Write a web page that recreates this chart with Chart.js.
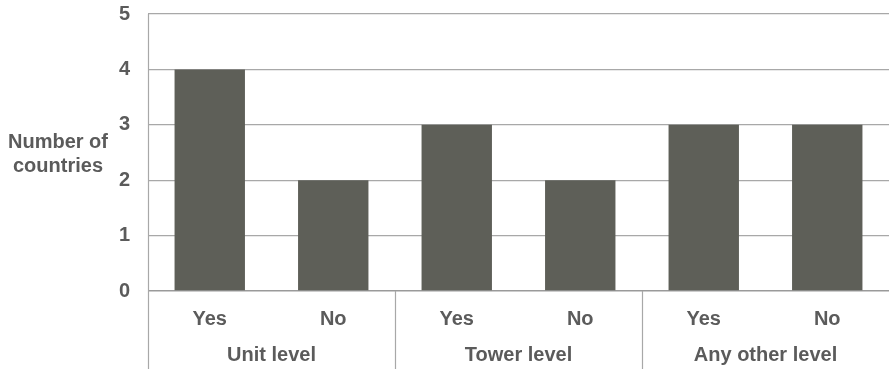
<!DOCTYPE html>
<html>
<head>
<meta charset="utf-8">
<script src="https://cdn.jsdelivr.net/npm/chart.js@4/dist/chart.umd.min.js"></script>
<style>
  html, body { margin: 0; padding: 0; background: #ffffff; }
  #wrap { width: 889px; height: 369px; }
</style>
</head>
<body>
<div id="wrap"><canvas id="chart" width="889" height="369"></canvas></div>
<script>
// Answer per bar, grouped in pairs by level
const answers = ['Yes', 'No', 'Yes', 'No', 'Yes', 'No'];
const levels = ['Unit level', 'Tower level', 'Any other level'];
const countries = [4, 2, 3, 2, 3, 3];
const axisTitle = ['Number of', 'countries'];

const TEXT = '#5b5b5b';
const LINE = '#a8a8a8';
const FONT_FAMILY = "'Liberation Sans', Arial, Helvetica, sans-serif";
const FONT_SIZE = 20;

// Group separators, level labels and the horizontal y-axis title
const levelAxis = {
  id: 'levelAxis',
  afterDraw(chart) {
    const { ctx, chartArea, scales } = chart;
    const x = scales.x;
    const bottom = chart.height;
    ctx.save();
    ctx.strokeStyle = LINE;
    ctx.lineWidth = 1.2;
    ctx.beginPath();
    ctx.moveTo(Math.round(chartArea.left) + 0.5, chartArea.top);
    ctx.lineTo(Math.round(chartArea.left) + 0.5, bottom);
    for (let g = 1; g < levels.length; g++) {
      const bx = (x.getPixelForValue(2 * g - 1) + x.getPixelForValue(2 * g)) / 2;
      ctx.moveTo(Math.round(bx) + 0.5, chartArea.bottom);
      ctx.lineTo(Math.round(bx) + 0.5, bottom);
    }
    ctx.stroke();

    ctx.fillStyle = TEXT;
    ctx.font = `bold ${FONT_SIZE}px ${FONT_FAMILY}`;
    ctx.textAlign = 'center';
    ctx.textBaseline = 'middle';
    levels.forEach((name, g) => {
      const cx = (x.getPixelForValue(2 * g) + x.getPixelForValue(2 * g + 1)) / 2;
      ctx.fillText(name, cx, 355);
    });

    const titleX = 58;
    axisTitle.forEach((line, i) => {
      ctx.fillText(line, titleX, 142 + i * 24);
    });
    ctx.restore();
  }
};

new Chart(document.getElementById('chart'), {
  type: 'bar',
  data: {
    labels: answers,
    datasets: [{
      data: countries,
      backgroundColor: '#5e5f58',
      borderWidth: 0,
      barPercentage: 0.57,
      categoryPercentage: 1.0
    }]
  },
  options: {
    responsive: false,
    animation: false,
    devicePixelRatio: 1,
    layout: { padding: 0 },
    plugins: {
      legend: { display: false },
      tooltip: { enabled: false }
    },
    scales: {
      x: {
        grid: { display: false, drawTicks: false },
        border: { display: false },
        ticks: {
          color: TEXT,
          font: { family: FONT_FAMILY, size: FONT_SIZE, weight: 'bold' },
          padding: 16,
          maxRotation: 0
        },
        afterFit(scale) { scale.height = 78; }
      },
      y: {
        min: 0,
        max: 5,
        grid: {
          color: ctx => ctx.tick && ctx.tick.value === 0 ? '#9a9a9a' : LINE,
          lineWidth: ctx => ctx.tick && ctx.tick.value === 0 ? 1.6 : 1.2,
          drawTicks: false
        },
        border: { display: false },
        ticks: {
          stepSize: 1,
          color: TEXT,
          font: { family: FONT_FAMILY, size: FONT_SIZE, weight: 'bold' },
          padding: 18
        },
        afterFit(scale) {
          scale.width = 148;
          scale.paddingTop = 14;
          scale.paddingBottom = 0;
        }
      }
    }
  },
  plugins: [levelAxis]
});
</script>
</body>
</html>
